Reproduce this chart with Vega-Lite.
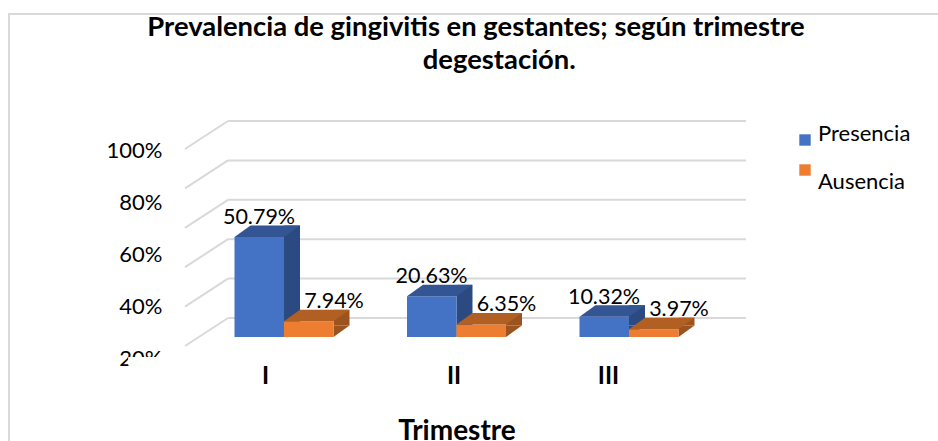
{
"$schema":"https://vega.github.io/schema/vega-lite/v6.json",
"autosize":"none",
"padding":{"left":9,"top":14,"right":0,"bottom":0},
"width":940,"height":445,
"background":"white",
"view":{"stroke":"#d9d9d9","strokeWidth":2,"fill":"white"},
"config":{"font":"Lato"},
"title":{"text":["Prevalencia de gingivitis en gestantes; según trimestre","\u2060\u00a0\u00a0\u00a0\u00a0\u00a0\u00a0\u00a0degestación."],"anchor":"start","align":"center","dx":467,"offset":-60,"fontSize":27.4,"fontWeight":"bold","font":"Lato","color":"#000000","lineHeight":33},
"datasets":{
"barras":[
{"trimestre":1,"serie":"Presencia","valor":50.79,"rotulo":"50.79%"},
{"trimestre":1,"serie":"Ausencia","valor":7.94,"rotulo":"7.94%"},
{"trimestre":2,"serie":"Presencia","valor":20.63,"rotulo":"20.63%"},
{"trimestre":2,"serie":"Ausencia","valor":6.35,"rotulo":"6.35%"},
{"trimestre":3,"serie":"Presencia","valor":10.32,"rotulo":"10.32%"},
{"trimestre":3,"serie":"Ausencia","valor":3.97,"rotulo":"3.97%"}],
"niveles":[{"nivel":0},{"nivel":20},{"nivel":40},{"nivel":60},{"nivel":80},{"nivel":100}]
},
"data":{"name":"barras"},
"layer":[
{"mark":{"type":"point","opacity":0},
 "data":{"name":"niveles"},
 "encoding":{"y":{"field":"nivel","type":"quantitative","scale":{"domain":[20,100],"range":[344,136]},
  "axis":{"orient":"left","offset":-153,"values":[20,40,60,80,100],"labelExpr":"datum.value+'%'","title":null,"domain":false,"ticks":false,"grid":false,"labelPadding":0,"labelFontSize":22,"labelColor":"#000000","labelFont":"Lato"}}}},
{"layer":[
 {"data":{"name":"niveles"},
  "mark":{"type":"rule","color":"#d9d9d9","strokeWidth":2,"yOffset":-19,"xOffset":-56,"x2Offset":117},
  "encoding":{"x":{"datum":1,"type":"quantitative","scale":{"domain":[1,3],"range":[275,620],"padding":0,"nice":false,"zero":false},
    "axis":{"orient":"bottom","offset":-97,"values":[1,2,3],"labelExpr":"['I','II','III'][datum.value-1]","domain":false,"ticks":false,"grid":false,"labelFontSize":24,"labelFontWeight":"bold","labelColor":"#000000","labelFont":"Lato","labelPadding":2,"labelFlush":false,"labelOverlap":false,"title":"Trimestre","titleFontSize":28,"titleFontWeight":"bold","titleColor":"#000000","titleFont":"Lato","titlePadding":29,
    "encoding":{"labels":{"dx":{"value":{"signal":"datum.value==1?-19:datum.value==2?-3:-21"}}}}}},
   "x2":{"datum":3},
   "y":{"field":"nivel","type":"quantitative","scale":{"domain":[0,100],"range":[323,126]},"axis":null}}},
 {"data":{"name":"niveles"},
  "mark":{"type":"rule","color":"#d9d9d9","strokeWidth":2,"yOffset":-19,"y2Offset":9,"xOffset":-56,"x2Offset":-99},
  "encoding":{"x":{"datum":1,"type":"quantitative"},"x2":{"datum":1},
   "y":{"field":"nivel","type":"quantitative"},"y2":{"field":"nivel"}}},
 {"mark":{"type":"rect","color":"white"},
  "encoding":{"x":{"datum":0.1,"type":"quantitative"},"x2":{"datum":0.8},"y":{"datum":-10.15,"type":"quantitative"},"y2":{"datum":-14.5}}},

 {"transform":[{"filter":"datum.serie=='Presencia'"}],"mark":{"type":"bar","orient":"vertical","width":16,"xOffset":8,"yOffset":-11.5,"y2Offset":-11.5,"color":"#2c4a82"},"encoding":{"x":{"field":"trimestre","type":"quantitative"},"y":{"field":"valor","type":"quantitative"}}},
 {"transform":[{"filter":"datum.serie=='Presencia'"}],"mark":{"type":"point","filled":true,"opacity":1,"strokeWidth":0,"size":4,"color":"#2c4a82","shape":"M0,-11.5 L0,0 L16,-11.5 Z"},"encoding":{"x":{"field":"trimestre","type":"quantitative"},"y":{"datum":0,"type":"quantitative"}}},
 {"transform":[{"filter":"datum.serie=='Presencia'"}],"mark":{"type":"bar","orient":"vertical","width":49.5,"xOffset":-24.75},"encoding":{"x":{"field":"trimestre","type":"quantitative"},"y":{"field":"valor","type":"quantitative"},"color":{"field":"serie","type":"nominal","scale":{"domain":["Presencia","Ausencia"],"range":["#4472c4","#ed7d31"]},
   "legend":{"orient":"none","legendX":785,"legendY":115,"title":null,"symbolType":"square","symbolSize":130,"symbolStrokeWidth":0,"labelFontSize":22,"labelColor":"#000000","labelFont":"Lato","labelOffset":2,"rowPadding":13,"encode":{"labels":{"update":{"dy":{"signal":"datum.value=='Presencia'?-6:12"}}}}}}}},
 {"transform":[{"filter":"datum.serie=='Presencia'"}],"mark":{"type":"point","filled":true,"opacity":1,"strokeWidth":0,"size":4,"color":"#335593","shape":"M-49.5,0 L0,0 L16,-11.5 L-33.5,-11.5 Z"},"encoding":{"x":{"field":"trimestre","type":"quantitative"},"y":{"field":"valor","type":"quantitative"}}},

 {"transform":[{"filter":"datum.serie=='Ausencia'"}],"mark":{"type":"bar","orient":"vertical","width":16,"xOffset":57.5,"yOffset":-11.5,"y2Offset":-11.5,"color":"#9b531f"},"encoding":{"x":{"field":"trimestre","type":"quantitative"},"y":{"field":"valor","type":"quantitative"}}},
 {"transform":[{"filter":"datum.serie=='Ausencia'"}],"mark":{"type":"point","filled":true,"opacity":1,"strokeWidth":0,"size":4,"color":"#9b531f","shape":"M49.5,-11.5 L49.5,0 L65.5,-11.5 Z"},"encoding":{"x":{"field":"trimestre","type":"quantitative"},"y":{"datum":0,"type":"quantitative"}}},
 {"transform":[{"filter":"datum.serie=='Ausencia'"}],"mark":{"type":"bar","orient":"vertical","width":49.5,"xOffset":24.75},"encoding":{"x":{"field":"trimestre","type":"quantitative"},"y":{"field":"valor","type":"quantitative"},"color":{"field":"serie","type":"nominal"}}},
 {"transform":[{"filter":"datum.serie=='Ausencia'"}],"mark":{"type":"point","filled":true,"opacity":1,"strokeWidth":0,"size":4,"color":"#b25f23","shape":"M0,0 L49.5,0 L65.5,-11.5 L16,-11.5 Z"},"encoding":{"x":{"field":"trimestre","type":"quantitative"},"y":{"field":"valor","type":"quantitative"}}},

 {"transform":[{"filter":"datum.serie=='Presencia'"}],"mark":{"type":"text","fontSize":21.5,"font":"Lato","color":"#000000","dx":-25,"dy":-19},"encoding":{"x":{"field":"trimestre","type":"quantitative"},"y":{"field":"valor","type":"quantitative"},"text":{"field":"rotulo","type":"nominal"}}},
 {"transform":[{"filter":"datum.serie=='Ausencia'"}],"mark":{"type":"text","fontSize":21.5,"font":"Lato","color":"#000000","dx":50,"dy":-19},"encoding":{"x":{"field":"trimestre","type":"quantitative"},"y":{"field":"valor","type":"quantitative"},"text":{"field":"rotulo","type":"nominal"}}}
 ]}
],
"resolve":{"scale":{"y":"independent"},"axis":{"y":"independent"}}
}
